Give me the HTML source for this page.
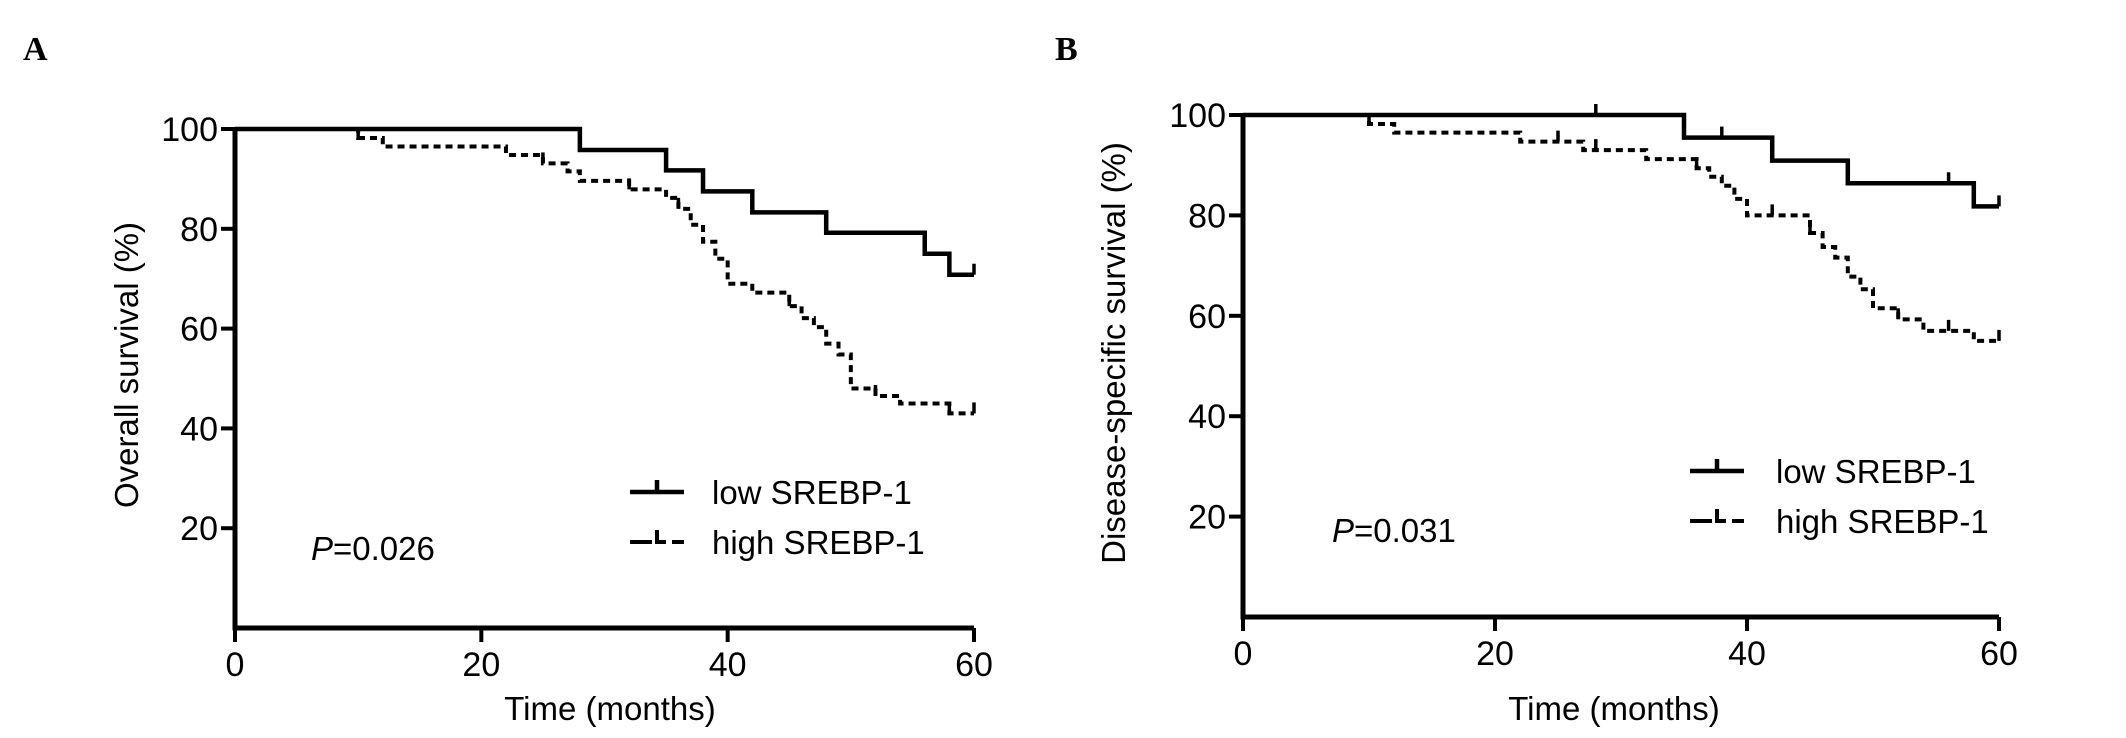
<!DOCTYPE html>
<html><head><meta charset="utf-8"><style>
html,body{margin:0;padding:0;background:#fff;}
svg{display:block;font-family:"Liberation Sans",Arial,sans-serif;}
</style></head><body>
<svg id="fig" width="2126" height="738" viewBox="0 0 2126 738" xmlns="http://www.w3.org/2000/svg">
<text x="23" y="60" font-family="Liberation Serif,serif" font-weight="bold" font-size="34">A</text>
<text x="1055" y="60" font-family="Liberation Serif,serif" font-weight="bold" font-size="34">B</text>
<g id="pa"></g>
<g id="pb"></g>
</svg>
<script>
const xTicks = [0, 20, 40, 60];
const yTicks = [20, 40, 60, 80, 100];
// Panel A: overall survival
const aLowTimes = [28, 35, 38, 42, 48, 56, 58];
const aLowSurv  = [95.8, 91.7, 87.5, 83.3, 79.2, 75.0, 70.8];
const aLowCens  = [60];
const aHighTimes = [10, 12, 22, 25, 27, 28, 32, 35, 36, 37, 38, 39, 40, 42, 45, 46, 47, 48, 49, 50, 52, 54, 58];
const aHighSurv  = [98.2, 96.5, 94.8, 93.1, 91.5, 89.6, 87.9, 86.2, 84.0, 80.8, 77.4, 74.0, 69.0, 67.2, 64.5, 62.1, 60.3, 57.0, 54.8, 48.0, 46.5, 45.0, 43.0];
const aHighCens  = [10, 25, 32, 36, 45, 52, 58, 60];
// Panel B: disease-specific survival
const bLowTimes = [35, 42, 48, 58];
const bLowSurv  = [95.5, 90.9, 86.4, 81.8];
const bLowCens  = [28, 38, 56, 60];
const bHighTimes = [10, 12, 22, 27, 32, 36, 37, 38, 39, 40, 45, 46, 47, 48, 49, 50, 52, 54, 58];
const bHighSurv  = [98.2, 96.5, 94.7, 93.0, 91.2, 89.4, 87.7, 85.9, 83.3, 80.0, 76.5, 73.7, 71.6, 67.8, 65.3, 61.5, 59.3, 57.0, 55.0];
const bHighCens  = [10, 25, 28, 36, 42, 45, 52, 56, 60];

const NS = "http://www.w3.org/2000/svg";
function mk(tag, attrs, parent) {
  const e = document.createElementNS(NS, tag);
  for (const k in attrs) e.setAttribute(k, attrs[k]);
  parent.appendChild(e);
  return e;
}
function survAt(times, surv, t) {
  let s = 100;
  for (let i = 0; i < times.length; i++) if (times[i] <= t) s = surv[i];
  return s;
}
function panel(g, cfg) {
  const X = v => cfg.x0 + (cfg.x60 - cfg.x0) * v / 60;
  const Y = v => cfg.y0 + (cfg.y100 - cfg.y0) * v / 100;
  const ax = mk("path", {d: `M${X(0)},${Y(100)} V${Y(0)} H${X(60)}`, fill: "none", stroke: "#000", "stroke-width": 5}, g);
  
  
  xTicks.forEach(t => {
    const l = mk("line", {x1: X(t), x2: X(t), y1: Y(0), y2: Y(0) + 14, stroke: "#000", "stroke-width": 4}, g);
    
    
    const tx = mk("text", {x: X(t), y: Y(0) + 48, "text-anchor": "middle", "font-size": 34}, g);
    tx.textContent = t;
    
    
  });
  yTicks.forEach(t => {
    const l = mk("line", {x1: X(0) - 14, x2: X(0), y1: Y(t), y2: Y(t), stroke: "#000", "stroke-width": 4}, g);
    
    
    const tx = mk("text", {x: X(0) - 17, y: Y(t) + 12, "text-anchor": "end", "font-size": 34}, g);
    tx.textContent = t;
    
    
  });
  const xt = mk("text", {x: cfg.xtX, y: 720, "text-anchor": "middle", "font-size": 33}, g);
  xt.textContent = "Time (months)";
  
  
  const yt = mk("text", {x: 0, y: 0, "text-anchor": "middle", "font-size": 33, transform: `translate(${cfg.ytX},${cfg.ytY}) rotate(-90)`}, g);
  yt.textContent = cfg.ytitle;
  
  
  function curve(times, surv, cens, dashed, name) {
    let d = `M${X(0)},${Y(100)}`;
    times.forEach((t, i) => { d += ` H${X(t)} V${Y(surv[i])}`; });
    d += ` H${X(60)}`;
    const p = mk("path", {d, fill: "none", stroke: "#000", "stroke-width": dashed ? 4 : 4.5, "stroke-dasharray": dashed ? "7 5" : "none"}, g);
    
    
    cens.forEach(t => {
      const s = survAt(times, surv, t);
      const c = mk("line", {x1: X(t), x2: X(t), y1: Y(s), y2: Y(s) - 11, stroke: "#000", "stroke-width": 3.5}, g);
      
      
    });
  }
  curve(cfg.lowT, cfg.lowS, cfg.lowC, false, "low-srebp1-curve");
  curve(cfg.highT, cfg.highS, cfg.highC, true, "high-srebp1-curve");
  const L = cfg.leg;
  const l1 = mk("path", {d: `M${L.x},${L.y1} H${L.x + 54} M${L.x + 27},${L.y1} V${L.y1 - 12}`, stroke: "#000", "stroke-width": 4.5, fill: "none"}, g);
  
  
  const t1 = mk("text", {x: L.tx, y: L.y1 + 12, "font-size": 33}, g);
  t1.textContent = "low SREBP-1";
  
  
  const l2 = mk("path", {d: `M${L.x},${L.y2} H${L.x + 22} M${L.x + 27},${L.y2 - 12} V${L.y2} H${L.x + 36} M${L.x + 42},${L.y2} H${L.x + 54}`, stroke: "#000", "stroke-width": 4, fill: "none"}, g);
  
  
  const t2 = mk("text", {x: L.tx, y: L.y2 + 12, "font-size": 33}, g);
  t2.textContent = "high SREBP-1";
  
  
  const pv = mk("text", {x: cfg.px, y: cfg.py + 11, "font-size": 33}, g);
  pv.innerHTML = '<tspan font-style="italic">P</tspan>=' + cfg.pval;
  
  
}
panel(document.getElementById("pa"), {
  x0: 235, x60: 974, y0: 628, y100: 129, xtX: 610, ytX: 138, ytY: 365,
  ytitle: "Overall survival (%)",
  lowT: aLowTimes, lowS: aLowSurv, lowC: aLowCens,
  highT: aHighTimes, highS: aHighSurv, highC: aHighCens,
  leg: {x: 630, y1: 492, y2: 542, tx: 712}, px: 311, py: 549, pval: "0.026"
});
panel(document.getElementById("pb"), {
  x0: 1243, x60: 1999, y0: 617, y100: 115, xtX: 1614, ytX: 1125, ytY: 353,
  ytitle: "Disease-specific survival (%)",
  lowT: bLowTimes, lowS: bLowSurv, lowC: bLowCens,
  highT: bHighTimes, highS: bHighSurv, highC: bHighCens,
  leg: {x: 1690, y1: 471, y2: 521, tx: 1776}, px: 1332, py: 531, pval: "0.031"
});
</script>
</body></html>
